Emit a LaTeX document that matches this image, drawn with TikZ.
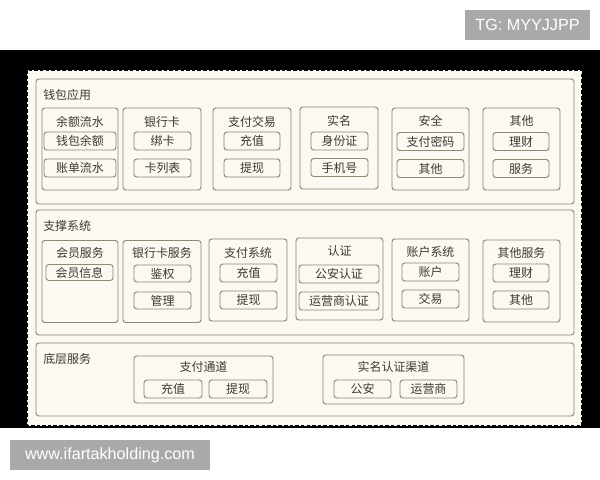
\documentclass[tikz,border=0pt]{standalone}
\usepackage{fontspec}
\setmainfont{Liberation Sans}
\newfontfamily\cjk{Noto Sans CJK SC}
\usetikzlibrary{positioning}
\definecolor{paper}{HTML}{FBF9F1}
\definecolor{edge}{HTML}{8E8A74}
\definecolor{ink}{HTML}{3A3934}
\definecolor{wm}{HTML}{A9A9A9}
\tikzset{wh/.style 2 args={minimum width=#1*0.025cm,minimum height=#2*0.025cm}}
\tikzset{layer/.style={draw=edge,fill=paper,line width=0.7pt,rounded corners=2pt,inner sep=0pt}}
\tikzset{group/.style={layer}}
\tikzset{item/.style={draw=edge,line width=0.7pt,rounded corners=2pt,inner sep=0pt,text=ink,font=\cjk\fontsize{8.5}{10}\selectfont}}
\tikzset{heading/.style={inner sep=0pt,text=ink,font=\cjk\fontsize{8.5}{10}\selectfont}}
\tikzset{tag/.style={fill=wm,text=white,inner sep=0pt,font=\fontsize{11.5}{13}\selectfont}}

\begin{document}
\begin{tikzpicture}[x=0.025cm,y=-0.025cm]
    \useasboundingbox (0,0) rectangle (600,480);
    \fill[white] (0,0) rectangle (600,480);
    \fill[black] (0,50) rectangle (600,428);
    \fill[paper] (27,70) rectangle (582,426);
    \draw[black,line width=1.2pt,dash pattern=on 2.5pt off 1.5pt] (27,70) rectangle (582,426);
    % watermarks
    \node[tag,wh={125}{30}] (tg) at (527.5,25) {TG: MYYJJPP};
    \node[tag,wh={200}{30}] (site) at (110,455) {www.ifartakholding.com};

    % wallet apps
    \node[layer,wh={538}{125}] (app) at (305,141.5) {};
    \node[heading,anchor=west] (appt) at (43,95) {钱包应用};
    \node[group,wh={76}{82}] (bal) at (80,149) {};
    \node[heading] (balt) at (80,122) {余额流水};
    \node[item,wh={72}{18}] (bal1) at (80,141) {钱包余额};
    \node[item,wh={72}{18}] (bal2) at (80,168) {账单流水};
    \node[group,wh={78}{82}] (card) at (162,149) {};
    \node[heading] (cardt) at (162,122) {银行卡};
    \node[item,wh={57}{18}] (card1) at (162.5,141) {绑卡};
    \node[item,wh={57}{18}] (card2) at (162.5,168) {卡列表};
    \node[group,wh={78}{82}] (pay) at (252,149) {};
    \node[heading] (payt) at (252,122) {支付交易};
    \node[item,wh={56}{18}] (pay1) at (252,141) {充值};
    \node[item,wh={56}{18}] (pay2) at (252,168) {提现};
    \node[group,wh={78}{82}] (real) at (339,148) {};
    \node[heading] (realt) at (339,121) {实名};
    \node[item,wh={57}{18}] (real1) at (339.5,141) {身份证};
    \node[item,wh={57}{18}] (real2) at (339.5,167.5) {手机号};
    \node[group,wh={77}{82}] (safe) at (430.5,149) {};
    \node[heading] (safet) at (430.5,121) {安全};
    \node[item,wh={67}{18}] (safe1) at (430.5,141.5) {支付密码};
    \node[item,wh={67}{18}] (safe2) at (430.5,168.5) {其他};
    \node[group,wh={77}{82}] (misc) at (521.5,149) {};
    \node[heading] (misct) at (521.5,121) {其他};
    \node[item,wh={56}{18}] (misc1) at (521,141.5) {理财};
    \node[item,wh={56}{18}] (misc2) at (521,168.5) {服务};

    % support systems
    \node[layer,wh={538}{125}] (sup) at (305,272.5) {};
    \node[heading,anchor=west] (supt) at (43,226) {支撑系统};
    \node[group,wh={76}{82}] (mem) at (80,281.5) {};
    \node[heading] (memt) at (80,253) {会员服务};
    \node[item,wh={67}{16}] (mem1) at (79.5,272.5) {会员信息};
    \node[group,wh={78}{82}] (bcs) at (162,281.5) {};
    \node[heading] (bcst) at (162,253) {银行卡服务};
    \node[item,wh={57}{17}] (bcs1) at (162.5,273.5) {鉴权};
    \node[item,wh={57}{17}] (bcs2) at (162.5,300.5) {管理};
    \node[group,wh={78}{82}] (psys) at (248,280) {};
    \node[heading] (psyst) at (248,253) {支付系统};
    \node[item,wh={57}{18}] (psys1) at (248.5,273) {充值};
    \node[item,wh={57}{18}] (psys2) at (248.5,300) {提现};
    \node[group,wh={87}{82}] (auth) at (339.5,279) {};
    \node[heading] (autht) at (339.5,251) {认证};
    \node[item,wh={80}{18}] (auth1) at (339,274) {公安认证};
    \node[item,wh={80}{18}] (auth2) at (339,301) {运营商认证};
    \node[group,wh={77}{82}] (acct) at (430.5,280) {};
    \node[heading] (acctt) at (430.5,252) {账户系统};
    \node[item,wh={57}{18}] (acct1) at (430.5,272) {账户};
    \node[item,wh={57}{18}] (acct2) at (430.5,299) {交易};
    \node[group,wh={77}{82}] (oth) at (521.5,281) {};
    \node[heading] (otht) at (521.5,253) {其他服务};
    \node[item,wh={56}{18}] (oth1) at (521,273) {理财};
    \node[item,wh={56}{18}] (oth2) at (521,300) {其他};

    % base services
    \node[layer,wh={538}{73}] (base) at (305,379.5) {};
    \node[heading,anchor=west] (baset) at (43,359) {底层服务};
    \node[group,wh={139}{47}] (chan) at (203.5,379.5) {};
    \node[heading] (chant) at (203.5,367) {支付通道};
    \node[item,wh={58}{18}] (chan1) at (173,389) {充值};
    \node[item,wh={58}{18}] (chan2) at (238,389) {提现};
    \node[group,wh={141}{49}] (idch) at (393.5,379.5) {};
    \node[heading] (idcht) at (393.5,367) {实名认证渠道};
    \node[item,wh={57}{18}] (idch1) at (362.5,389) {公安};
    \node[item,wh={57}{18}] (idch2) at (428.5,389) {运营商};
\end{tikzpicture}
\end{document}
